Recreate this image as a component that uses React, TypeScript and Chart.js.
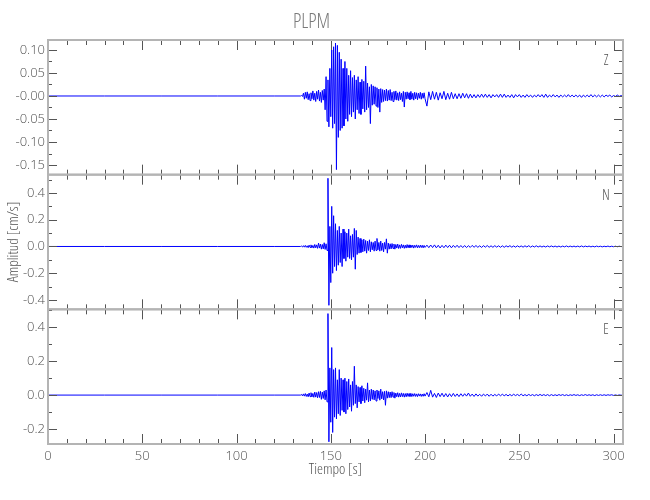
import { useEffect, useRef } from 'react';
import { Chart, registerables } from 'chart.js';

Chart.register(...registerables);

// ---------------- text ----------------
const TITLE = 'PLPM';
const X_LABEL = 'Tiempo [s]';
const Y_LABEL = 'Amplitud [cm/s]';

// ---------------- axes ----------------
const X_MIN = 0;
const X_MAX = 305;
const X_TICK_STEP = 50;
const X_MINOR_STEP = 10;

const Z_LIMITS = [-0.171, 0.1217];
const N_LIMITS = [-0.47, 0.537];
const E_LIMITS = [-0.288, 0.505];

// ---------------- data ----------------
// samples are stored in units of 0.001 cm/s
const UNIT = 0.001;
// quiet pre-event part
const PRE_TIMES = [0, 30, 60, 90, 120];
// sampling of the recorded wave train
const SEG_A_START = 134; // s, 0.5 s sampling up to 200 s
const SEG_A_STEP = 0.5;
const SEG_B_START = 201; // s, 1 s sampling up to 305 s
const SEG_B_STEP = 1;

const zPre = [0, 0, 0, 0, 0];
const zSegA = [
  0, 1, -1, 6, -7, 8, -5, 9, -8, 5,
  -10, 7, -6, 11, -9, 6, -12, 10, -7, 13,
  -11, 8, -14, 12, -9, 15, -30, 42, -55, 35,
  -67, 60, -45, 100, -70, 107, -60, 115, -160, 110,
  -90, 95, -75, 80, -70, 60, -65, 75, -50, 60,
  -55, 45, -40, 55, -45, 40, -35, 45, -50, 35,
  -30, 42, -38, 30, -40, 36, -28, 32, -35, 65,
  -30, 28, -25, 20, -60, 25, -20, 22, -18, 20,
  -22, 18, -25, 15, -35, 16, -14, 14, -12, 13,
  -10, 15, -11, 12, -9, 14, -10, 8, -12, 10,
  -8, 11, -9, 7, -10, 9, -8, 6, -12, 10,
  -24, 8, -7, 9, -6, 7, -8, 10, -7, 6,
  -9, 8, -6, 7, -8, 6, -5, 8, -7, 6,
  -5, 7, -6,
];
const zSegB = [
  -22, 9, -8, 10, -7, 8, -9, 7, -6, 10,
  -8, 6, -7, 8, -6, 5, -6, 5, -5, 6,
  -4, 5, -5, 4, -4, 3, -4, 3, -3, 4,
  -3, 4, -3, 3, -4, 3, -2, 3, -3, 4,
  -3, 4, -3, 2, -3, 3, -4, 3, -2, 3,
  -3, 2, -3, 3, -2, 2, -3, 2, -2, 3,
  -2, 3, -3, 4, -3, 2, -2, 3, -2, 2,
  -3, 2, -2, 2, -2, 3, -2, 2, -2, 2,
  -2, 2, -3, 2, -2, 2, -2, 3, -2, 2,
  -2, 2, -2, 2, -2, 2, -1, 2, -2, 1,
  -1, 2, -1, 1, -1,
];

const nPre = [0, 0, 0, 0, 0];
const nSegA = [
  0, 3, -4, 6, -5, 8, -6, 5, -9, 10,
  -7, 12, -10, 8, -12, 15, -10, 12, -14, 25,
  -12, 18, -20, 15, -18, 28, -22, 20, -30, 510,
  -440, 150, -270, 300, -200, 230, -150, 170, -180, 120,
  -140, 150, -120, 100, -150, 130, -90, 110, -110, 100,
  -80, 130, -90, 80, -100, 90, -80, 135, -170, 120,
  -60, 70, -50, 60, -45, 50, -40, 55, -35, 45,
  -50, 40, -30, 50, -40, 35, -25, 30, -35, 40,
  -30, 60, -25, 30, -35, 40, -30, 25, -40, 30,
  -20, 57, -50, 25, -20, 20, -18, 22, -15, 18,
  -20, 15, -12, 18, -15, 12, -14, 16, -10, 12,
  -14, 10, -12, 14, -10, 12, -9, 11, -8, 10,
  -12, 9, -7, 12, -10, 8, -9, 10, -8, 9,
  -10, 8, -7,
];
const nSegB = [
  10, -9, 11, -8, 12, -10, 9, -11, 8, -9,
  10, -8, 9, -10, 8, -7, 9, -8, 7, -8,
  7, -8, 6, -7, 8, -6, 7, -6, 5, -7,
  6, -5, 7, -6, 5, -6, 6, -5, 5, -6,
  5, -6, 5, -4, 6, -5, 4, -5, 5, -4,
  4, -5, 5, -4, 6, -5, 4, -4, 5, -4,
  4, -4, 3, -4, 4, -3, 4, -3, 3, -4,
  3, -4, 3, -3, 4, -3, 3, -3, 3, -3,
  3, -3, 4, -3, 3, -2, 3, -3, 2, -3,
  3, -2, 2, -3, 2, -2, 3, -2, 2, -2,
  2, -2, 2, -1, 1,
];

const ePre = [0, 0, 0, 0, 0];
const eSegA = [
  0, 4, -5, 7, -6, 9, -8, 6, -10, 12,
  -9, 14, -11, 10, -13, 18, -12, 15, -16, 20,
  -14, 22, -25, 18, -20, 25, -28, 30, -40, 480,
  -275, 160, -160, 280, -220, 150, -130, 160, -140, 90,
  -110, 150, -120, 100, -90, 90, -100, 100, -110, 80,
  -85, 95, -70, 60, -95, 80, -60, 170, -50, 60,
  -75, 50, -40, 45, -50, 55, -35, 40, -45, 35,
  -30, 72, -40, 30, -35, 35, -25, 30, -28, 25,
  -35, 30, -20, 25, -30, 35, -22, 20, -28, 22,
  -60, 25, -18, 20, -15, 18, -15, 20, -12, 15,
  -18, 12, -10, 14, -12, 10, -11, 13, -9, 10,
  -12, 9, -10, 11, -8, 9, -8, 10, -9, 8,
  -7, 9, -8, 7, -9, 8, -6, 7, -8, 6,
  -7, 8, -6,
];
const eSegB = [
  15, -10, 28, -12, 10, -14, 12, -9, 11, -10,
  9, -11, 8, -9, 10, -8, 7, -9, 8, -7,
  8, -6, 12, -7, 6, -8, 7, -6, 5, -7,
  6, -5, 6, -7, 5, -6, 4, -5, 6, -4,
  5, -4, 4, -5, 4, -4, 5, -3, 4, -4,
  6, -4, 3, -4, 4, -3, 3, -4, 3, -3,
  4, -3, 3, -3, 3, -4, 3, -3, 2, -3,
  3, -2, 3, -3, 2, -3, 2, -2, 3, -2,
  2, -3, 2, -2, 3, -2, 2, -2, 2, -3,
  2, -2, 2, -2, 2, -2, 2, -1, 2, -2,
  1, -2, 1, -1, 1,
];

// ---------------- styles ----------------
const FONT = '"Open Sans", "Liberation Sans", sans-serif';
const TICK_WEIGHT = '300';
const NARROW_WEIGHT = 'condensed 300';
const LABEL_COLOR = '#505050';
const TITLE_COLOR = '#7a7a7a';
const FRAME_COLOR = '#b4b4b4';
const TICK_COLOR = '#555555';
const TRACE_COLOR = '#0000ff';

type Pt = { x: number; y: number };
function buildTrace(pre: number[], segA: number[], segB: number[]): Pt[] {
  const pts: Pt[] = [];
  PRE_TIMES.forEach((t, i) => pts.push({ x: t, y: pre[i] * UNIT }));
  segA.forEach((v, i) => pts.push({ x: SEG_A_START + i * SEG_A_STEP, y: v * UNIT }));
  segB.forEach((v, i) => pts.push({ x: SEG_B_START + i * SEG_B_STEP, y: v * UNIT }));
  return pts;
}

const PANELS = [
  { id: 'yZ', name: 'Z', limits: Z_LIMITS, step: 0.05, minor: 0.025, dec: 2, zero: '-0.00', weight: 3, pre: zPre, a: zSegA, b: zSegB },
  { id: 'yN', name: 'N', limits: N_LIMITS, step: 0.2, minor: 0.1, dec: 1, zero: '0.0', weight: 2, pre: nPre, a: nSegA, b: nSegB },
  { id: 'yE', name: 'E', limits: E_LIMITS, step: 0.2, minor: 0.1, dec: 1, zero: '0.0', weight: 1, pre: ePre, a: eSegA, b: eSegB },
];

const framePlugin = {
  id: 'seismoFrame',
  afterDraw(chart: any) {
    const ctx = chart.ctx as CanvasRenderingContext2D;
    const xs = chart.scales.x;
    const { left, right } = chart.chartArea;
    PANELS.forEach((p) => {
      const ys = chart.scales[p.id];
      const top = ys.top;
      const bottom = ys.bottom;
      ctx.save();
      ctx.strokeStyle = TICK_COLOR;
      ctx.lineWidth = 1;
      ctx.beginPath();
      for (let k = 0; k * X_MINOR_STEP <= X_MAX; k++) {
        const t = k * X_MINOR_STEP;
        const px = Math.round(xs.getPixelForValue(t)) + 0.5;
        const len = t % X_TICK_STEP === 0 ? 10 : 5;
        ctx.moveTo(px, top);
        ctx.lineTo(px, top + len);
        ctx.moveTo(px, bottom);
        ctx.lineTo(px, bottom - len);
      }
      const ratio = Math.round(p.step / p.minor);
      const k0 = Math.ceil(p.limits[0] / p.minor - 1e-6);
      const k1 = Math.floor(p.limits[1] / p.minor + 1e-6);
      for (let k = k0; k <= k1; k++) {
        const v = k * p.minor;
        const py = Math.round(ys.getPixelForValue(v)) + 0.5;
        const len = k % ratio === 0 ? 9 : 4;
        ctx.moveTo(left, py);
        ctx.lineTo(left + len, py);
        ctx.moveTo(right, py);
        ctx.lineTo(right - len, py);
      }
      ctx.stroke();
      ctx.strokeStyle = FRAME_COLOR;
      ctx.lineWidth = 2;
      ctx.strokeRect(left, top, right - left, bottom - top);
      ctx.fillStyle = LABEL_COLOR;
      ctx.font = NARROW_WEIGHT + ' 14px ' + FONT;
      ctx.textAlign = 'center';
      ctx.textBaseline = 'middle';
      ctx.fillText(p.name, right - 17, top + 21);
      ctx.restore();
    });
  },
};

export default function App() {
  const ref = useRef<HTMLCanvasElement>(null);
  useEffect(() => {
    const tickFont = { family: FONT, size: 13, weight: TICK_WEIGHT };
    const axisTitleFont = { family: FONT, size: 15, weight: NARROW_WEIGHT };
    const scales: any = {
      x: {
        type: 'linear',
        position: 'bottom',
        min: X_MIN,
        max: X_MAX,
        grid: { display: false, drawTicks: false },
        border: { display: false },
        ticks: {
          stepSize: X_TICK_STEP,
          includeBounds: false,
          padding: 4,
          autoSkip: false,
          maxRotation: 0,
          color: LABEL_COLOR,
          font: tickFont,
          callback: (v: number) => String(Math.round(v)),
        },
        title: {
          display: true,
          text: X_LABEL,
          color: LABEL_COLOR,
          font: axisTitleFont,
          padding: { top: 0, bottom: 21 },
        },
        afterFit: (s: any) => {
          s.height = 56;
        },
      },
    };
    PANELS.forEach((p) => {
      scales[p.id] = {
        type: 'linear',
        position: 'left',
        stack: 'panels',
        stackWeight: 1,
        weight: p.weight,
        min: p.limits[0],
        max: p.limits[1],
        grid: { display: false, drawTicks: false },
        border: { display: false },
        ticks: {
          stepSize: p.step,
          includeBounds: false,
          autoSkip: false,
          padding: 3,
          color: LABEL_COLOR,
          font: tickFont,
          callback: (v: number) => (Math.abs(v) < 1e-9 ? p.zero : Number(v).toFixed(p.dec)),
        },
        title: {
          display: p.id === 'yN',
          text: Y_LABEL,
          color: LABEL_COLOR,
          font: axisTitleFont,
          padding: { top: 5, bottom: 0 },
        },
        afterFit: (s: any) => {
          s.width = 48;
        },
      };
    });

    const chart = new Chart(ref.current as HTMLCanvasElement, {
      type: 'line',
      data: {
        datasets: PANELS.map((p) => ({
          label: p.name,
          data: buildTrace(p.pre, p.a, p.b),
          xAxisID: 'x',
          yAxisID: p.id,
          borderColor: TRACE_COLOR,
          borderWidth: 1,
          pointRadius: 0,
          tension: 0,
          fill: false,
        })),
      },
      options: {
        animation: false,
        responsive: true,
        maintainAspectRatio: false,
        events: [],
        layout: { padding: { left: 0, right: 27, top: 0, bottom: 0 } },
        plugins: {
          legend: { display: false },
          tooltip: { enabled: false },
          title: {
            display: true,
            text: TITLE,
            color: TITLE_COLOR,
            font: { family: FONT, size: 20, weight: NARROW_WEIGHT },
            padding: { top: 10, bottom: 6 },
          },
        },
        scales,
      } as any,
      plugins: [framePlugin],
    });
    return () => chart.destroy();
  }, []);

  return (
    <div style={{ position: 'fixed', left: 0, top: 0, width: 650, height: 500, background: '#ffffff' }}>
      <canvas ref={ref} />
    </div>
  );
}
